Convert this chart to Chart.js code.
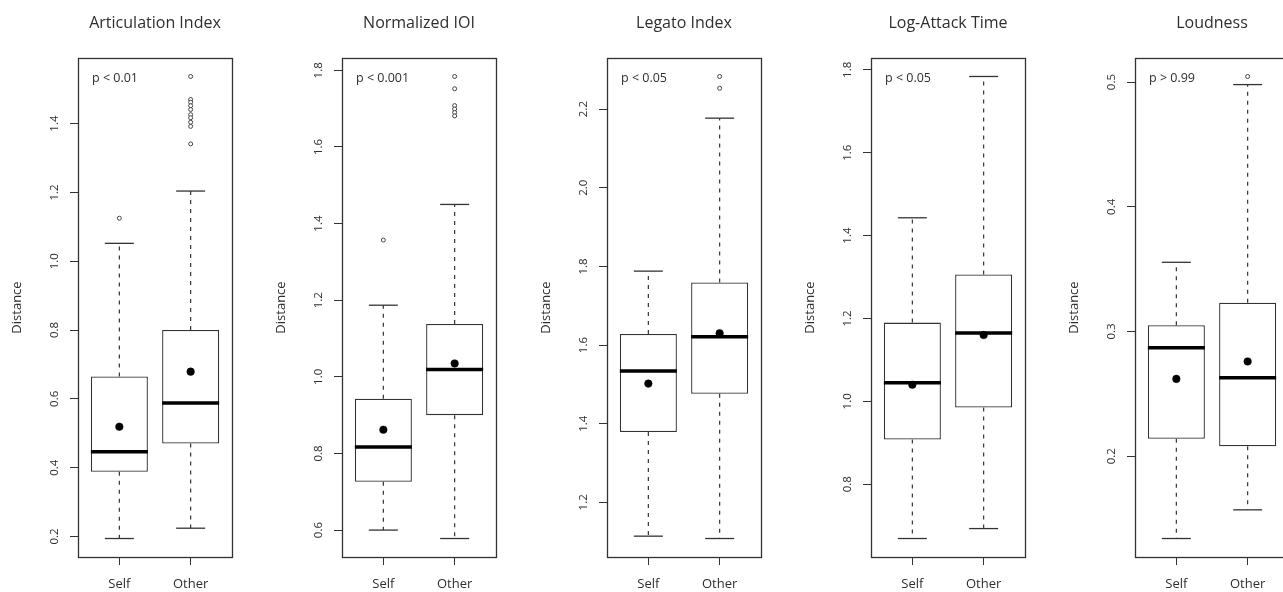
<!DOCTYPE html>
<html>
<head>
<meta charset="utf-8">
<script src="https://cdn.jsdelivr.net/npm/chart.js@4/dist/chart.umd.min.js"></script>
<style>
  html, body { margin: 0; padding: 0; background: #fff; }
  #wrap { position: relative; width: 1283px; height: 592px; overflow: hidden; background: #fff; }
  .panel { position: absolute; top: 0; width: 264px; height: 592px; }
</style>
</head>
<body>
<div id="wrap"></div>
<script>
// ---- data -------------------------------------------------------------
const panelTitles = ['Articulation Index', 'Normalized IOI', 'Legato Index', 'Log-Attack Time', 'Loudness'];
const groups = ['Self', 'Other'];
const pLabels = ['p < 0.01', 'p < 0.001', 'p < 0.05', 'p < 0.05', 'p > 0.99'];

// five-number summaries per panel: [Self, Other]
const whiskerLow  = [[0.194, 0.224], [0.600, 0.578], [1.114, 1.108], [0.669, 0.693], [0.134, 0.157]];
const quartile1   = [[0.388, 0.470], [0.726, 0.900], [1.379, 1.476], [0.908, 0.985], [0.214, 0.208]];
const medians     = [[0.446, 0.588], [0.817, 1.019], [1.534, 1.621], [1.045, 1.165], [0.287, 0.263]];
const quartile3   = [[0.665, 0.800], [0.943, 1.138], [1.628, 1.759], [1.190, 1.306], [0.305, 0.323]];
const whiskerHigh = [[1.052, 1.204], [1.187, 1.450], [1.788, 2.177], [1.443, 1.784], [0.3555, 0.498]];
const means       = [[0.519, 0.679], [0.862, 1.035], [1.502, 1.630], [1.040, 1.160], [0.262, 0.276]];
const outliers = [
  [[1.125], [1.537, 1.470, 1.462, 1.452, 1.441, 1.426, 1.417, 1.404, 1.392, 1.341]],
  [[1.357], [1.784, 1.752, 1.708, 1.699, 1.690, 1.681]],
  [[], [2.283, 2.253]],
  [[], []],
  [[], [0.5045]]
];
const yTicks = [
  [0.2, 0.4, 0.6, 0.8, 1.0, 1.2, 1.4],
  [0.6, 0.8, 1.0, 1.2, 1.4, 1.6, 1.8],
  [1.2, 1.4, 1.6, 1.8, 2.0, 2.2],
  [0.8, 1.0, 1.2, 1.4, 1.6, 1.8],
  [0.2, 0.3, 0.4, 0.5]
];

// ---- styling ----------------------------------------------------------
const FONT = "'Open Sans', 'Noto Sans', sans-serif";
const INK = '#2e2e2e';
const LINE = '#333333';
const PANEL_STEP = 264.25;

// frame, rotated y tick labels and the p-value note
const panelDecor = {
  id: 'panelDecor',
  afterDatasetsDraw(chart) {
    const a = chart.chartArea, ctx = chart.ctx;
    ctx.save();
    ctx.strokeStyle = LINE;
    ctx.lineWidth = 1.3;
    ctx.strokeRect(Math.round(a.left) + 0.5, Math.round(a.top) + 0.5,
                   Math.round(a.right - a.left), Math.round(a.bottom - a.top));
    ctx.restore();
  },
  afterDraw(chart, args, opts) {
    const a = chart.chartArea, ctx = chart.ctx, ys = chart.scales.y;
    ctx.save();
    ctx.fillStyle = INK;
    ctx.font = '11.5px ' + FONT;
    ctx.textAlign = 'center';
    ctx.textBaseline = 'middle';
    ys.ticks.forEach(t => {
      const y = ys.getPixelForValue(t.value);
      ctx.save();
      ctx.translate(a.left - 23, y);
      ctx.rotate(-Math.PI / 2);
      ctx.fillText(t.value.toFixed(1), 0, 0);
      ctx.restore();
    });
    ctx.font = '12.5px ' + FONT;
    ctx.textAlign = 'left';
    ctx.fillText(opts.note, a.left + 14, a.top + 20);
    ctx.restore();
  }
};

function extend(lo, hi) {
  const d = (hi - lo) * 0.04;
  return [lo - d, hi + d];
}

const wrap = document.getElementById('wrap');

panelTitles.forEach((title, k) => {
  const div = document.createElement('div');
  div.className = 'panel';
  div.style.left = Math.round(k * PANEL_STEP) + 'px';
  const canvas = document.createElement('canvas');
  canvas.width = 264; canvas.height = 592;
  div.appendChild(canvas);
  wrap.appendChild(div);

  const allVals = [].concat(whiskerLow[k], whiskerHigh[k], outliers[k][0], outliers[k][1]);
  const [yMin, yMax] = extend(Math.min(...allVals), Math.max(...allVals));
  const [xMin, xMax] = extend(0.5, groups.length + 0.5);

  const whiskerPts = [], capPts = [], boxPts = [], medPts = [], meanPts = [], outPts = [];
  groups.forEach((g, i) => {
    const x = i + 1;
    whiskerPts.push({x, y: quartile3[k][i]}, {x, y: whiskerHigh[k][i]}, {x, y: null},
                    {x, y: quartile1[k][i]}, {x, y: whiskerLow[k][i]}, {x, y: null});
    capPts.push({x, y: whiskerLow[k][i]}, {x, y: whiskerHigh[k][i]});
    boxPts.push({x, y: [quartile1[k][i], quartile3[k][i]]});
    medPts.push({x, y: medians[k][i]});
    meanPts.push({x, y: means[k][i]});
    outliers[k][i].forEach(v => outPts.push({x, y: v}));
  });

  new Chart(canvas, {
    type: 'scatter',
    data: {
      datasets: [
        { type: 'line', data: whiskerPts, borderColor: LINE, borderWidth: 1.2,
          borderDash: [4, 5], pointRadius: 0, spanGaps: false, order: 5 },
        { type: 'scatter', data: capPts, pointStyle: 'line', pointRadius: 14.5,
          pointBorderColor: LINE, pointBorderWidth: 1.3, order: 4 },
        { type: 'bar', data: boxPts, backgroundColor: '#ffffff', borderColor: LINE,
          borderWidth: 1.3, borderSkipped: false, barPercentage: 0.8,
          categoryPercentage: 1.0, order: 3 },
        { type: 'scatter', data: medPts, pointStyle: 'line', pointRadius: 28.5,
          pointBorderColor: '#000000', pointBorderWidth: 3.5, order: 2 },
        { type: 'scatter', data: meanPts, pointStyle: 'circle', pointRadius: 3.8,
          pointBackgroundColor: '#000000', pointBorderColor: '#000000',
          pointBorderWidth: 0.5, order: 1 },
        { type: 'scatter', data: outPts, pointStyle: 'circle', pointRadius: 2,
          pointBackgroundColor: '#ffffff', pointBorderColor: '#444444',
          pointBorderWidth: 1, order: 1 }
      ]
    },
    options: {
      responsive: false,
      animation: false,
      devicePixelRatio: 1,
      layout: { padding: { left: 0, right: 29, top: 0, bottom: 0 } },
      plugins: {
        legend: { display: false },
        tooltip: { enabled: false },
        title: {
          display: true, text: title, fullSize: false, color: INK,
          font: { family: FONT, size: 16, weight: 'normal' },
          padding: { top: 14, bottom: 24.8 }
        },
        panelDecor: { note: pLabels[k] }
      },
      scales: {
        x: {
          type: 'linear', min: xMin, max: xMax, offset: false,
          afterBuildTicks: s => { s.ticks = groups.map((g, i) => ({ value: i + 1 })); },
          afterFit: s => { s.height = 35; },
          ticks: {
            callback: v => groups[Math.round(v) - 1],
            font: { family: FONT, size: 13 }, color: INK, padding: 11,
            maxRotation: 0, autoSkip: false
          },
          grid: { drawOnChartArea: false, drawTicks: true, tickLength: 8, color: LINE,
                  lineWidth: 1, offset: false },
          border: { display: false }
        },
        y: {
          type: 'linear', min: yMin, max: yMax, offset: false,
          afterBuildTicks: s => { s.ticks = yTicks[k].map(v => ({ value: v })); },
          afterFit: s => { s.width = 78; },
          ticks: { display: false },
          grid: { drawOnChartArea: false, drawTicks: true, tickLength: 8, color: LINE,
                  lineWidth: 1, offset: false },
          border: { display: false },
          title: {
            display: true, text: 'Distance', color: INK,
            font: { family: FONT, size: 13 }, padding: { top: 9, bottom: 0 }
          }
        }
      }
    },
    plugins: [panelDecor]
  });
});
</script>
</body>
</html>
